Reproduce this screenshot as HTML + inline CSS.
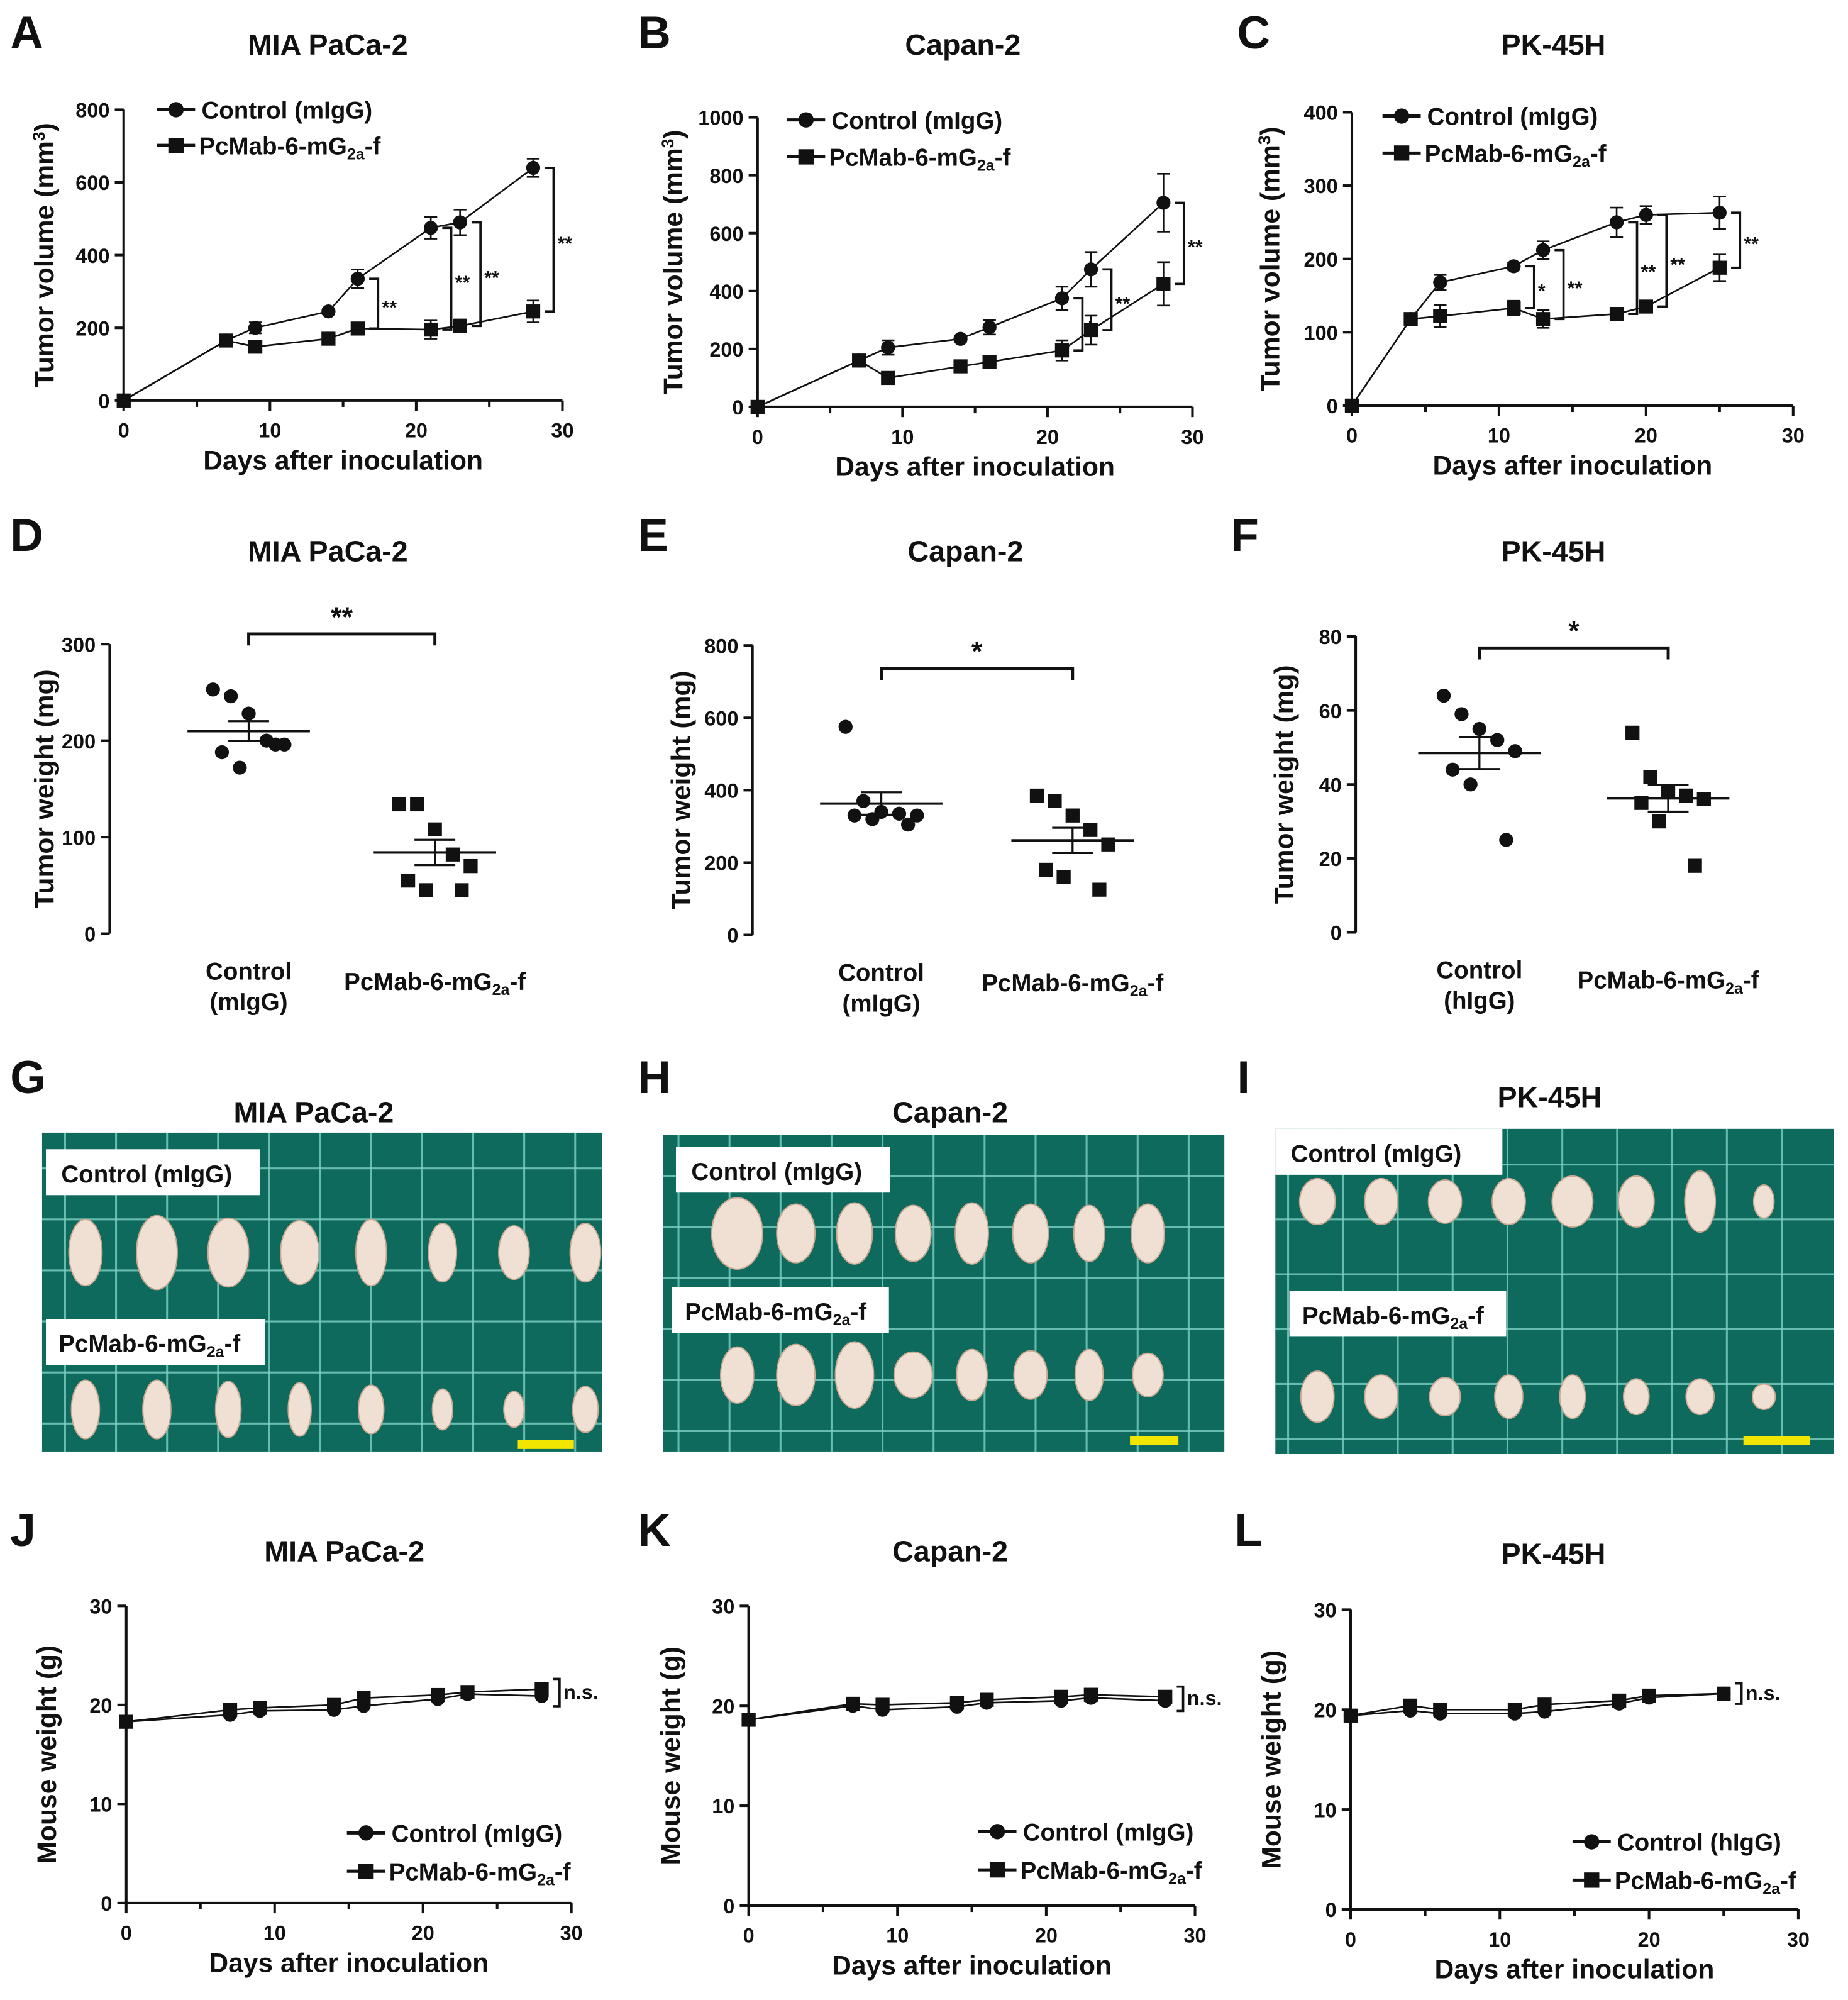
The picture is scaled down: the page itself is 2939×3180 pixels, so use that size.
<!DOCTYPE html>
<html><head><meta charset="utf-8"><style>
html,body{margin:0;padding:0;background:#fff}
svg{display:block}
text{font-family:"Liberation Sans",Arial,sans-serif;font-weight:bold;fill:#111}
</style></head><body>
<svg id="fig" width="2939" height="3180" viewBox="0 0 1449 1568" preserveAspectRatio="none" xmlns="http://www.w3.org/2000/svg"></svg>
<script>
// ---------- DATA ----------
const daysA = [0,7,9,14,16,21,23,28];
const ctrlA = [0,165,200,245,335,475,490,640];
const trtA  = [0,165,148,170,198,195,205,245];
const errCA = [0,8,15,8,25,30,35,25];
const errTA = [0,8,10,8,10,25,18,30];
const daysB = [0,7,9,14,16,21,23,28];
const ctrlB = [0,160,205,235,275,375,475,705];
const trtB  = [0,160,100,140,155,195,265,425];
const errCB = [0,8,25,10,25,40,60,100];
const errTB = [0,8,8,8,10,35,50,75];
const daysC = [0,4,6,11,13,18,20,25];
const ctrlC = [0,118,168,190,212,250,260,263];
const trtC  = [0,118,122,133,118,125,135,188];
const errCC = [0,5,10,5,12,20,12,22];
const errTC = [0,5,15,10,12,5,8,18];
const ctrlD = [253,246,228,200,196,188,172,196];
const trtD  = [134,134,108,82,70,55,45,45];
const ctrlE = [575,370,340,335,330,330,320,305];
const trtE  = [385,370,330,290,250,180,160,125];
const ctrlF = [64,59,55,52,49,44,40,25];
const trtF  = [54,42,38,37,36,35,30,18];
const mwCJ = [18.3,19,19.4,19.5,19.9,20.6,21.1,20.9];
const mwTJ = [18.3,19.5,19.7,20,20.7,21,21.3,21.6];
const mwCK = [18.6,20,19.6,19.9,20.3,20.5,20.8,20.5];
const mwTK = [18.6,20.2,20.1,20.3,20.6,20.9,21.1,20.9];
const mwCL = [19.4,19.9,19.6,19.6,19.8,20.6,21.2,21.6];
const mwTL = [19.4,20.4,20,20,20.5,20.9,21.4,21.6];
const xTicks = [0,10,20,30];

const NS="http://www.w3.org/2000/svg";
const svg=document.getElementById('fig');
function mk(tag,attrs,parent){const e=document.createElementNS(NS,tag);for(const k in attrs)e.setAttribute(k,attrs[k]);(parent||svg).appendChild(e);return e;}
function txt(x,y,s,size,anchor,parent,rot){const e=mk('text',{x:x,y:y,'font-size':size,'text-anchor':anchor||'middle'},parent);if(rot)e.setAttribute('transform','rotate(-90 '+x+' '+y+')');e.textContent=s;return e;}
function subLabel(x,y,size,parent,anchor){const e=mk('text',{x:x,y:y,'font-size':size,'text-anchor':anchor||'start'},parent);
 e.innerHTML='PcMab-6-mG<tspan font-size="'+(size*0.65)+'" dy="4">2a</tspan><tspan dy="-4">-f</tspan>';return e;}
function marker(type,x,y,r,parent){let e;if(type==='c')e=mk('circle',{cx:x,cy:y,r:r,fill:'#111'},parent);else e=mk('rect',{x:x-r,y:y-r,width:2*r,height:2*r,fill:'#111'},parent);return e;}

function letter(x,y,s){const e=txt(x,y,s,36,'start');}
function title(x,y,s,name){const e=txt(x,y,s,23,'middle');}

function lineChart(o){
 const g=mk('g',{});
 
 
 const X=d=>o.x0+(o.x1-o.x0)*d/30, Y=v=>o.y0-(o.y0-o.yTop)*v/o.ymax;
 const ax=mk('path',{d:'M'+o.x0+' '+o.yTop+'V'+o.y0+'H'+o.x1,stroke:'#111','stroke-width':2,fill:'none'},g);
 
 
 o.yTicks.forEach(t=>{mk('line',{x1:o.x0-7,x2:o.x0,y1:Y(t),y2:Y(t),stroke:'#111','stroke-width':2},g);
  const l=txt(o.x0-11,Y(t)+6,String(t),16,'end',g);});
 [0,5,10,15,20,25,30].forEach(t=>mk('line',{x1:X(t),x2:X(t),y1:o.y0,y2:o.y0+(t%10?5:8),stroke:'#111','stroke-width':2},g));
 xTicks.forEach(t=>{const l=txt(X(t),o.y0+29,String(t),16,'middle',g);});
 const xl=txt((o.x0+o.x1)/2,o.y0+54,'Days after inoculation',21,'middle',g);
 
 
 const yl=txt(o.ylx,(o.y0+o.yTop)/2,'',21,'middle',g,true);
 yl.innerHTML=o.ylab;
 
 
 [[o.c,o.ec,'c','control'],[o.t,o.et,'s','treatment']].forEach(([vals,errs,m,nm])=>{
  const s=mk('g',{},g);
  
  
  mk('polyline',{points:o.days.map((d,i)=>X(d)+','+Y(vals[i])).join(' '),fill:'none',stroke:'#111','stroke-width':1.3},s);
  o.days.forEach((d,i)=>{if(errs&&errs[i]){const yy1=Y(vals[i]+errs[i]),yy2=Y(vals[i]-errs[i]);
    mk('path',{d:'M'+(X(d)-5)+' '+yy1+'H'+(X(d)+5)+'M'+X(d)+' '+yy1+'V'+yy2+'M'+(X(d)-5)+' '+yy2+'H'+(X(d)+5),stroke:'#111','stroke-width':1.3,fill:'none'},s);}
   const p=marker(m,X(d),Y(vals[i]),5.5,s);
   
   });
 });
 (o.sig||[]).forEach(([d,lbl])=>{const i=o.days.indexOf(d);const bx=X(d)+9;const ya=Y(o.c[i]),yb=Y(o.t[i]);
  mk('path',{d:'M'+bx+' '+ya+'H'+(bx+7)+'V'+yb+'H'+bx,stroke:'#111','stroke-width':1.8,fill:'none'},g);
  const l=txt(bx+10,(ya+yb)/2+8,lbl,15,'start',g);});
 if(o.ns){const i=o.days.length-1;const bx=X(o.days[i])+9;const ya=Y(Math.max(o.c[i],o.t[i]))-8,yb=Y(Math.min(o.c[i],o.t[i]))+8;
  mk('path',{d:'M'+bx+' '+ya+'H'+(bx+5)+'V'+yb+'H'+bx,stroke:'#111','stroke-width':1.8,fill:'none'},g);
  const l=txt(bx+8,(ya+yb)/2+5,'n.s.',16,'start',g);}
 const lg=mk('g',{},g);
 
 
 const lx=o.legX,ly=o.legY;
 mk('line',{x1:lx,x2:lx+30,y1:ly,y2:ly,stroke:'#111','stroke-width':2.5},lg);marker('c',lx+15,ly,6,lg);
 txt(lx+35,ly+7,o.ctrlName,19,'start',lg);
 mk('line',{x1:lx,x2:lx+30,y1:ly+o.legGap,y2:ly+o.legGap,stroke:'#111','stroke-width':2.5},lg);marker('s',lx+15,ly+o.legGap,6,lg);
 subLabel(lx+33,ly+o.legGap+7,19,lg);
 return g;
}
const volLab='Tumor volume (mm<tspan font-size="13" dy="-7">3</tspan><tspan dy="7">)</tspan>';
letter(8,38,'A');title(257,43,'MIA PaCa-2','title-a');
lineChart({name:'chart-a',x0:97,x1:441,y0:314,yTop:86,ymax:800,yTicks:[0,200,400,600,800],days:daysA,c:ctrlA,t:trtA,ec:errCA,et:errTA,ylx:42,ylab:volLab,legX:123,legY:86,legGap:28,ctrlName:'Control (mIgG)',sig:[[16,'**'],[21,'**'],[23,'**'],[28,'**']]});
letter(500,38,'B');title(755,43,'Capan-2','title-b');
lineChart({name:'chart-b',x0:594,x1:935,y0:319,yTop:92,ymax:1000,yTicks:[0,200,400,600,800,1000],days:daysB,c:ctrlB,t:trtB,ec:errCB,et:errTB,ylx:535,ylab:volLab,legX:617,legY:94,legGap:29,ctrlName:'Control (mIgG)',sig:[[21,'*'],[23,'**'],[28,'**']]});
letter(970,38,'C');title(1218,43,'PK-45H','title-c');
lineChart({name:'chart-c',x0:1060,x1:1406,y0:318,yTop:88,ymax:400,yTicks:[0,100,200,300,400],days:daysC,c:ctrlC,t:trtC,ec:errCC,et:errTC,ylx:1003,ylab:volLab,legX:1084,legY:91,legGap:29,ctrlName:'Control (mIgG)',sig:[[11,'*'],[13,'**'],[18,'**'],[20,'**'],[25,'**']]});

function scatter(o){
 const g=mk('g',{});
 
 
 const Y=v=>o.y0-(o.y0-o.yTop)*v/o.ymax;
 mk('path',{d:'M'+o.x0+' '+o.yTop+'V'+o.y0,stroke:'#111','stroke-width':2,fill:'none'},g);
 o.yTicks.forEach(t=>{mk('line',{x1:o.x0-7,x2:o.x0,y1:Y(t),y2:Y(t),stroke:'#111','stroke-width':2},g);
  const l=txt(o.x0-11,Y(t)+6,String(t),16,'end',g);});
 const yl=txt(o.ylx,(o.y0+o.yTop)/2,o.ylab,21,'middle',g,true);
 
 
 const offs=[-28,-14,0,14,28,-21,-7,21];
 [[o.c,o.cx,'c','control'],[o.t,o.tx,'s','treatment']].forEach(([vals,cx,m,nm])=>{
  const s=mk('g',{},g);
  
  
  const mean=vals.reduce((a,b)=>a+b,0)/vals.length;
  const sd=Math.sqrt(vals.reduce((a,b)=>a+(b-mean)**2,0)/(vals.length-1));const se=sd/Math.sqrt(vals.length);
  mk('line',{x1:cx-48,x2:cx+48,y1:Y(mean),y2:Y(mean),stroke:'#111','stroke-width':2},s);
  mk('path',{d:'M'+(cx-16)+' '+Y(mean+se)+'H'+(cx+16)+'M'+cx+' '+Y(mean+se)+'V'+Y(mean-se)+'M'+(cx-16)+' '+Y(mean-se)+'H'+(cx+16),stroke:'#111','stroke-width':1.6,fill:'none'},s);
  vals.forEach((v,i)=>{const p=marker(m,cx+offs[i],Y(v),5.5,s);});
 });
 const by=o.brY;
 mk('path',{d:'M'+o.cx+' '+(by+9)+'V'+by+'H'+o.tx+'V'+(by+9),stroke:'#111','stroke-width':2.4,fill:'none'},g);
 const sl=txt((o.cx+o.tx)/2,by-6,o.sig,22,'middle',g);
 
 
 const c1=txt(o.cx,o.y0+36,'Control',19,'middle',g);
 const c2=txt(o.cx,o.y0+60,o.ctrlSub,19,'middle',g);
 const t1=subLabel(o.tx,o.y0+44,19,g,'middle');
}
letter(8,432,'D');title(257,440,'MIA PaCa-2','title-d');
scatter({name:'chart-d',x0:86,y0:732,yTop:505,ymax:300,yTicks:[0,100,200,300],c:ctrlD,t:trtD,cx:195,tx:341,ylx:42,ylab:'Tumor weight (mg)',brY:497,sig:'**',ctrlSub:'(mIgG)'});
letter(500,432,'E');title(757,440,'Capan-2','title-e');
scatter({name:'chart-e',x0:590,y0:733,yTop:506,ymax:800,yTicks:[0,200,400,600,800],c:ctrlE,t:trtE,cx:691,tx:841,ylx:541,ylab:'Tumor weight (mg)',brY:524,sig:'*',ctrlSub:'(mIgG)'});
letter(965,432,'F');title(1218,440,'PK-45H','title-f');
scatter({name:'chart-f',x0:1063,y0:731,yTop:499,ymax:80,yTicks:[0,20,40,60,80],c:ctrlF,t:trtF,cx:1160,tx:1308,ylx:1014,ylab:'Tumor weight (mg)',brY:508,sig:'*',ctrlSub:'(hIgG)'});

function photo(o){
 const g=mk('g',{});
 
 
 mk('rect',{x:o.x,y:o.y,width:o.w,height:o.h,fill:'#0d6a5c'},g);
 for(let x=o.x+o.gx;x<o.x+o.w;x+=o.step)mk('line',{x1:x,x2:x,y1:o.y,y2:o.y+o.h,stroke:'#7fd0c4','stroke-width':1.5,opacity:0.8},g);
 for(let y=o.y+o.gy;y<o.y+o.h;y+=o.step)mk('line',{x1:o.x,x2:o.x+o.w,y1:y,y2:y,stroke:'#7fd0c4','stroke-width':1.5,opacity:0.8},g);
 [[o.r1,o.s1],[o.r2,o.s2]].forEach(([ry,sizes])=>{
  sizes.forEach((sz,i)=>{const cx=o.x+o.t0+i*o.tdx;const t=mk('ellipse',{cx:cx,cy:ry,rx:sz[0],ry:sz[1],fill:'#f0dfd3',stroke:'#caa892','stroke-width':1},g);
   
   });
 });
 mk('rect',{x:o.l1[0],y:o.l1[1],width:o.l1[2],height:36,fill:'#fff'},g);
 txt(o.l1[0]+12,o.l1[1]+26,o.ctrl,19,'start',g);
 mk('rect',{x:o.l2[0],y:o.l2[1],width:o.l2[2],height:36,fill:'#fff'},g);
 subLabel(o.l2[0]+10,o.l2[1]+26,19,g);
 const sb=mk('rect',{x:o.sb[0],y:o.sb[1],width:o.sb[2],height:7,fill:'#f2e600'},g);
 
 
}
letter(8,857,'G');title(246,880,'MIA PaCa-2','title-g');
photo({name:'photo-g',x:33,y:888,w:439,h:250,gx:18,gy:28,step:40,r1:982,r2:1105,t0:34,tdx:56,
 s1:[[13,26],[16,29],[16,27],[15,25],[12,26],[11,23],[12,21],[12,23]],s2:[[11,23],[11,23],[10,22],[9,21],[10,19],[8,16],[8,14],[10,18]],
 l1:[36,901,168],l2:[36,1034,172],ctrl:'Control (mIgG)',sb:[406,1129,44]});
letter(500,857,'H');title(745,880,'Capan-2','title-h');
photo({name:'photo-h',x:520,y:890,w:440,h:248,gx:12,gy:32,step:40,r1:967,r2:1078,t0:58,tdx:46,
 s1:[[20,28],[15,23],[14,24],[14,22],[13,24],[14,23],[12,22],[13,23]],s2:[[13,22],[15,24],[15,26],[15,18],[12,20],[13,19],[11,20],[12,17]],
 l1:[530,899,168],l2:[527,1009,170],ctrl:'Control (mIgG)',sb:[886,1126,38]});
letter(970,857,'I');title(1215,868,'PK-45H','title-i');
photo({name:'photo-i',x:1000,y:885,w:438,h:255,gx:10,gy:28,step:43,r1:942,r2:1095,t0:33,tdx:50,
 s1:[[14,18],[13,18],[13,17],[13,18],[16,20],[14,20],[12,24],[8,13]],s2:[[13,20],[13,17],[12,15],[11,17],[10,17],[10,14],[11,14],[9,10]],
 l1:[1000,885,178],l2:[1011,1012,170],ctrl:'Control (mIgG)',sb:[1367,1126,52]});

const wLab='Mouse weight (g)';
letter(8,1212,'J');title(270,1224,'MIA PaCa-2','title-j');
lineChart({name:'chart-j',x0:99,x1:448,y0:1492,yTop:1259,ymax:30,yTicks:[0,10,20,30],days:daysA,c:mwCJ,t:mwTJ,ylx:44,ylab:wLab,legX:272,legY:1437,legGap:30,ctrlName:'Control (mIgG)',ns:true});
letter(500,1212,'K');title(745,1224,'Capan-2','title-k');
lineChart({name:'chart-k',x0:587,x1:937,y0:1494,yTop:1259,ymax:30,yTicks:[0,10,20,30],days:daysB,c:mwCK,t:mwTK,ylx:533,ylab:wLab,legX:767,legY:1436,legGap:30,ctrlName:'Control (mIgG)',ns:true});
letter(968,1212,'L');title(1218,1226,'PK-45H','title-l');
lineChart({name:'chart-l',x0:1059,x1:1410,y0:1497,yTop:1262,ymax:30,yTicks:[0,10,20,30],days:daysC,c:mwCL,t:mwTL,ylx:1004,ylab:wLab,legX:1233,legY:1444,legGap:30,ctrlName:'Control (hIgG)',ns:true});
</script>
</body></html>
